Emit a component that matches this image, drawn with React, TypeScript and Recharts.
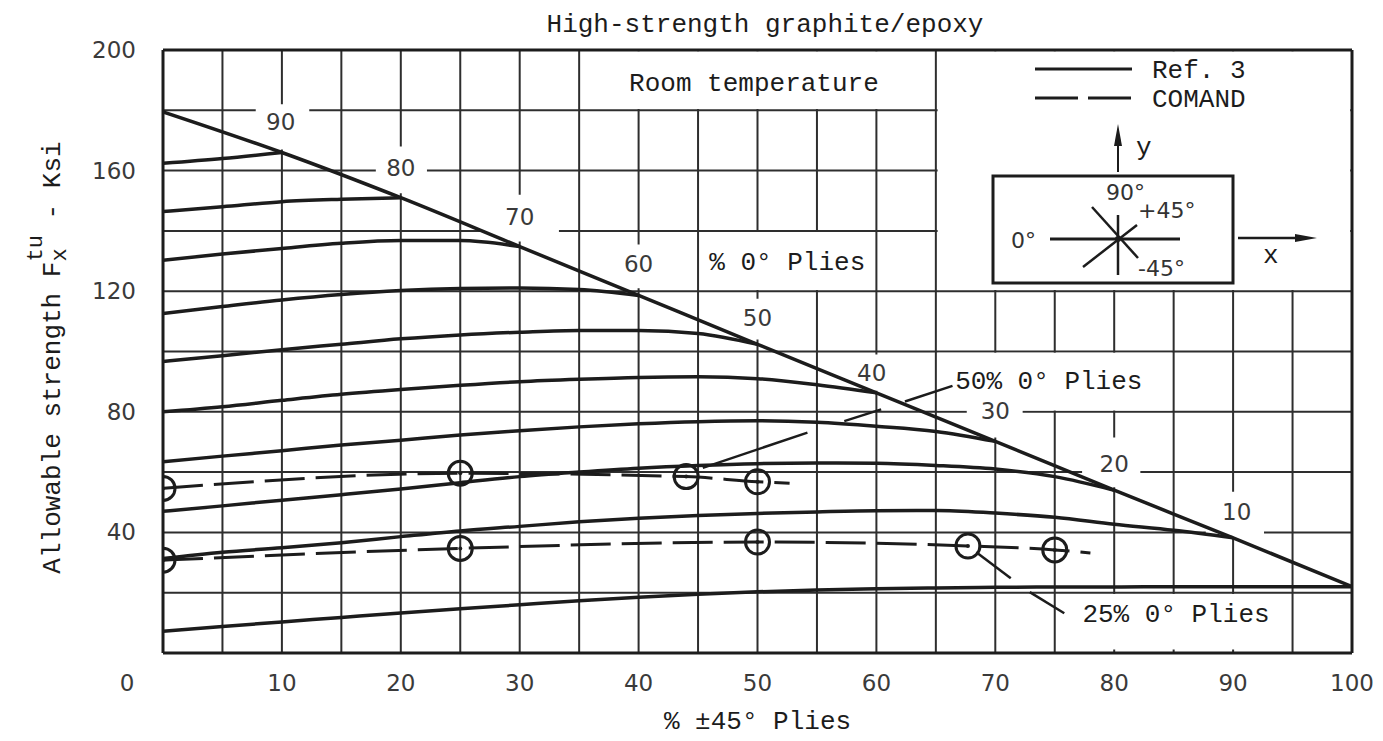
import React from "react";
import {
  ComposedChart,
  Line,
  XAxis,
  YAxis,
  CartesianGrid,
  ReferenceArea,
  ReferenceDot,
  ReferenceLine,
  Legend,
  Label,
} from "recharts";

// % ±45° plies, sampled every 5
const pliesX = [0, 5, 10, 15, 20, 25, 30, 35, 40, 45, 50, 55, 60, 65, 70, 75, 80, 85, 90, 95, 100];
const envelopeX = [0, 10, 20, 30, 40, 50, 60, 70, 80, 90, 100];

// Ref. 3 - allowable strength (Ksi), one curve per % 0° plies
const ref90 = [162.4, 164, 166];
const ref80 = [146.4, 148, 149.7, 150.5, 151];
const ref70 = [130.3, 132.3, 134.2, 135.9, 136.8, 136.8, 134.8];
const ref60 = [112.6, 114.9, 117.1, 118.9, 120.2, 120.9, 121.1, 120.6, 118.6];
const ref50 = [96.7, 98.6, 100.6, 102.4, 104.2, 105.5, 106.4, 107, 107, 106, 102.4];
const ref40 = [80, 81.7, 83.8, 85.8, 87.4, 88.8, 90, 90.8, 91.4, 91.6, 91, 89, 86.3];
const ref30 = [63.4, 65.3, 67.1, 69, 70.6, 72.3, 73.7, 75, 76, 76.7, 77, 76.5, 75.2, 73.5, 70.2];
const ref20 = [47, 48.8, 50.7, 52.5, 54.4, 56.5, 58.5, 60, 61.3, 62.2, 62.8, 63, 62.9, 62.2, 61, 58.5, 54];
const ref10 = [31.3, 33.4, 34.9, 36.6, 38.6, 40.5, 42, 43.5, 44.7, 45.6, 46.3, 46.8, 47.2, 47.3, 46.4, 45, 42.7, 40.7, 38.2];
const ref0 = [7.2, 8.8, 10.3, 11.8, 13.3, 14.7, 16, 17.3, 18.5, 19.5, 20.3, 20.9, 21.3, 21.6, 21.8, 21.9, 21.9, 22, 22, 22, 22];
// no 90° plies
const envelope = [179.5, 166, 151, 134.8, 118.6, 102.4, 86.3, 70.2, 54, 38.2, 22];

// COMAND
const comand50X = [0, 25, 44, 50, 52.7];
const comand50 = [54.6, 59.6, 58.5, 56.8, 56.3];
const comand50Tested = [true, true, true, true, false];
const comand25X = [0, 25, 50, 67.7, 75, 78];
const comand25 = [30.8, 34.7, 36.8, 35.5, 34.2, 33.2];
const comand25Tested = [true, true, true, true, true, false];

const envelopeLabels = ["90", "80", "70", "60", "50", "40", "30", "20", "10"];
const xTicks = [0, 5, 10, 15, 20, 25, 30, 35, 40, 45, 50, 55, 60, 65, 70, 75, 80, 85, 90, 95, 100];
const yTicks = [0, 20, 40, 60, 80, 100, 120, 140, 160, 180, 200];

// where the envelope labels sit, and the white patch behind each
const labelPos = [
  [9.9, 176], [20, 161], [30, 144.5], [40, 129], [50, 111],
  [59.6, 93], [70, 80.3], [80, 62.7], [90.3, 46.8],
];
const labelBox = [
  [7.8, 12.3, 167, 182], [17.9, 22.2, 152.5, 168], [27, 33.3, 136.5, 152],
  [38.3, 41.7, 121, 135.5], [48.3, 51.7, 104, 117.5], [58, 61.3, 87, 99],
  [67.6, 72.3, 71.5, 85], [77.3, 82.2, 55, 71.5], [87.7, 92.6, 38.5, 53.5],
];

const INK = "#1c1c1c";
const GRID = "#2e2e2e";
const MONO = "'Liberation Mono', 'DejaVu Sans Mono', monospace";
const SANS = "'DejaVu Sans', sans-serif";

const pts = (xs: number[], ys: number[], flags?: boolean[]) =>
  ys.map((y, i) => ({ x: xs[i], y, tested: flags ? flags[i] : false }));

const refCurves = [ref90, ref80, ref70, ref60, ref50, ref40, ref30, ref20, ref10, ref0].map((ys) =>
  pts(pliesX, ys)
);
const envelopeData = pts(envelopeX, envelope);
const comand50Data = pts(comand50X, comand50, comand50Tested);
const comand25Data = pts(comand25X, comand25, comand25Tested);

const renderXTick = (props: any) => {
  const { x, y, payload } = props;
  const v = payload.value;
  if (v % 10 !== 0) return <g />;
  return (
    <text x={v === 0 ? x - 36 : x} y={y} textAnchor="middle" dominantBaseline="central"
      fontFamily={SANS} fontSize={23} fill="#3a3a3a">
      {v}
    </text>
  );
};

const renderYTick = (props: any) => {
  const { x, y, payload } = props;
  const v = payload.value;
  if (v === 0 || v % 40 !== 0) return <g />;
  return (
    <text x={x} y={y} textAnchor="end" dominantBaseline="central"
      fontFamily={SANS} fontSize={23} fill="#3a3a3a">
      {v}
    </text>
  );
};

const XLabel = (props: any) => {
  const { viewBox } = props;
  return (
    <text x={viewBox.x + viewBox.width / 2} y={viewBox.y + 69} textAnchor="middle"
      dominantBaseline="central" fontFamily={MONO} fontSize={26} fill={INK}>
      % ±45° Plies
    </text>
  );
};

const YLabel = (props: any) => {
  const { viewBox } = props;
  const cx = 60;
  const cy = viewBox.y + viewBox.height / 2 + 6;
  return (
    <text transform={`rotate(-90 ${cx} ${cy})`} x={cx} y={cy} textAnchor="middle"
      fontFamily={MONO} fontSize={26} fill={INK}>
      Allowable strength F
      <tspan dy={6} fontSize={22}>x</tspan>
      <tspan dx={-13} dy={-24} fontSize={22}>tu</tspan>
      <tspan dy={18}> - Ksi</tspan>
    </text>
  );
};

const TestDot = (props: any) => {
  const { cx, cy, payload, index } = props;
  if (!payload.tested) return <g key={index} />;
  return (
    <g key={index}>
      <circle cx={cx} cy={cy} r={12} fill="none" stroke={INK} strokeWidth={3} />
      <circle cx={cx} cy={cy} r={2} fill={INK} />
    </g>
  );
};

const KeyPanel = () => (
  <svg width={417} height={236} style={{ display: "block", overflow: "visible" }}>
    <line x1={100} y1={17} x2={197} y2={17} stroke={INK} strokeWidth={3} />
    <text x={217} y={26} fontFamily={MONO} fontSize={26} fill={INK}>Ref. 3</text>
    <line x1={100} y1={46} x2={197} y2={46} stroke={INK} strokeWidth={3} strokeDasharray="43 10" />
    <text x={217} y={55} fontFamily={MONO} fontSize={26} fill={INK}>COMAND</text>

    <line x1={183} y1={120} x2={183} y2={88} stroke={INK} strokeWidth={2} />
    <polygon points="183,72 179,94 187,94" fill={INK} />
    <text x={201} y={103} fontFamily={MONO} fontSize={26} fill={INK}>y</text>

    <rect x={58} y={124} width={240} height={107} fill="none" stroke={INK} strokeWidth={3} />
    <text x={171} y={148} fontFamily={SANS} fontSize={22} fill="#333">90°</text>
    <text x={203} y={166} fontFamily={SANS} fontSize={22} fill="#333">+45°</text>
    <text x={76} y={196} fontFamily={SANS} fontSize={22} fill="#333">0°</text>
    <text x={203} y={224} fontFamily={SANS} fontSize={22} fill="#333">-45°</text>
    <line x1={115} y1={187} x2={245} y2={187} stroke={INK} strokeWidth={3} />
    <line x1={183} y1={163} x2={183} y2={223} stroke={INK} strokeWidth={2.5} />
    <line x1={148} y1={215} x2={202} y2={173} stroke={INK} strokeWidth={2.5} />
    <line x1={157} y1={155} x2={203} y2={206} stroke={INK} strokeWidth={2.5} />
    <circle cx={183} cy={187} r={3} fill={INK} />

    <line x1={303} y1={186} x2={365} y2={186} stroke={INK} strokeWidth={2.5} />
    <polygon points="382,186 360,182 360,190" fill={INK} />
    <text x={328} y={211} fontFamily={MONO} fontSize={26} fill={INK}>x</text>
  </svg>
);

const textShape = (txt: string, font: string, size: number) => (p: any) => (
  <text x={p.cx} y={p.cy} textAnchor="middle" dominantBaseline="central"
    fontFamily={font} fontSize={size} fill={font === MONO ? INK : "#3a3a3a"}>
    {txt}
  </text>
);

const white = { fill: "#fff", fillOpacity: 1, stroke: "none" };

export default function App() {
  return (
    <div style={{ position: "absolute", left: 0, top: 0, width: 1383, height: 741, background: "#fff" }}>
      <div
        style={{
          position: "absolute", left: 765, top: 25, transform: "translate(-50%, -50%)",
          whiteSpace: "nowrap", fontFamily: MONO, fontSize: 26, color: INK,
        }}
      >
        High-strength graphite/epoxy
      </div>
      <ComposedChart width={1383} height={741} margin={{ top: 50, right: 31, bottom: 28, left: 0 }}>
        <CartesianGrid stroke={GRID} strokeWidth={2} />
        <XAxis type="number" dataKey="x" domain={[0, 100]} ticks={xTicks} interval={0}
          tickSize={0} tickMargin={30} tick={renderXTick} tickLine={false}
          axisLine={{ stroke: INK, strokeWidth: 3 }} height={60} allowDataOverflow>
          <Label content={XLabel} />
        </XAxis>
        <YAxis type="number" domain={[0, 200]} ticks={yTicks} interval={0} width={163}
          tickSize={0} tickMargin={27} tick={renderYTick} tickLine={false}
          axisLine={{ stroke: INK, strokeWidth: 3 }} allowDataOverflow>
          <Label content={YLabel} />
        </YAxis>

        <ReferenceArea x1={35.2} x2={64.85} y1={180.4} y2={199.6} {...white} />
        <ReferenceArea x1={65.15} x2={99.85} y1={120.4} y2={199.6} {...white} />
        <ReferenceArea x1={45.15} x2={59.85} y1={120.4} y2={139.6} {...white} />
        <ReferenceArea x1={65.15} x2={84.85} y1={80.4} y2={99.6} {...white} />
        <ReferenceArea x1={75.15} x2={94.85} y1={1.2} y2={19.6} {...white} />
        {labelBox.map((b, i) => (
          <ReferenceArea key={"b" + i} x1={b[0]} x2={b[1]} y1={b[2]} y2={b[3]} {...white} />
        ))}
        <ReferenceLine x={100} stroke={INK} strokeWidth={3} />
        <ReferenceLine y={200} stroke={INK} strokeWidth={3} />

        {refCurves.map((d, i) => (
          <Line key={"r" + i} data={d} dataKey="y" type="monotone" stroke={INK} strokeWidth={3.5}
            dot={false} activeDot={false} isAnimationActive={false} legendType="none" />
        ))}
        <Line data={envelopeData} dataKey="y" type="monotone" stroke={INK} strokeWidth={3.5}
          dot={false} activeDot={false} isAnimationActive={false} legendType="none" />
        <Line data={comand50Data} dataKey="y" type="monotone" stroke={INK} strokeWidth={3}
          strokeDasharray="40 11" dot={TestDot} activeDot={false} isAnimationActive={false} legendType="none" />
        <Line data={comand25Data} dataKey="y" type="monotone" stroke={INK} strokeWidth={3}
          strokeDasharray="40 11" dot={TestDot} activeDot={false} isAnimationActive={false} legendType="none" />

        {/* leaders */}
        <ReferenceLine segment={[{ x: 66.4, y: 88.6 }, { x: 62.4, y: 83.4 }]} stroke={INK} strokeWidth={2.5} ifOverflow="visible" />
        <ReferenceLine segment={[{ x: 60.4, y: 80.8 }, { x: 57.3, y: 76.9 }]} stroke={INK} strokeWidth={2.5} ifOverflow="visible" />
        <ReferenceLine segment={[{ x: 54.2, y: 73.1 }, { x: 45.4, y: 61.4 }]} stroke={INK} strokeWidth={2.5} ifOverflow="visible" />
        <ReferenceLine segment={[{ x: 68.4, y: 33.4 }, { x: 71.3, y: 24.8 }]} stroke={INK} strokeWidth={2.5} ifOverflow="visible" />
        <ReferenceLine segment={[{ x: 72.9, y: 20.2 }, { x: 75.8, y: 13.2 }]} stroke={INK} strokeWidth={2.5} ifOverflow="visible" />

        {envelopeLabels.map((t, i) => (
          <ReferenceDot key={"l" + i} x={labelPos[i][0]} y={labelPos[i][1]} r={0}
            ifOverflow="visible" shape={textShape(t, SANS, 23)} />
        ))}
        <ReferenceDot x={49.7} y={188.8} r={0} ifOverflow="visible" shape={textShape("Room temperature", MONO, 26)} />
        <ReferenceDot x={52.5} y={129.3} r={0} ifOverflow="visible" shape={textShape("% 0° Plies", MONO, 26)} />
        <ReferenceDot x={74.5} y={90} r={0} ifOverflow="visible" shape={textShape("50% 0° Plies", MONO, 26)} />
        <ReferenceDot x={85.2} y={12.6} r={0} ifOverflow="visible" shape={textShape("25% 0° Plies", MONO, 26)} />

        <Legend verticalAlign="middle" align="center" layout="horizontal" content={KeyPanel}
          wrapperStyle={{ left: 935, top: 52, width: 417, height: 236 }} />
      </ComposedChart>
    </div>
  );
}
